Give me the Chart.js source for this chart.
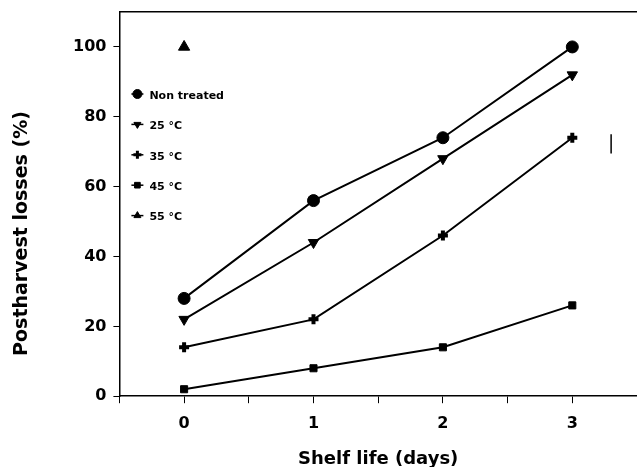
<!DOCTYPE html>
<html>
<head>
<meta charset="utf-8">
<script src="https://cdn.jsdelivr.net/npm/chart.js@4/dist/chart.umd.min.js"></script>
<style>
  html, body { margin: 0; padding: 0; background: #fff; overflow: hidden; }
  #wrap { position: absolute; left: 0; top: 0; width: 637px; height: 467px; }
</style>
</head>
<body>
<div id="wrap"><canvas id="lossChart"></canvas></div>
<script>
// Shelf life days and postharvest losses (%) per treatment
const days = [0, 1, 2, 3];
const nonTreated = [28, 56, 74, 100];
const temp25 = [22, 44, 68, 92];
const temp35 = [14, 22, 46, 74];
const temp45 = [2, 8, 14, 26];
const temp55 = [100];          // only day 0 plotted
const seriesNames = ['Non treated', '25 °C', '35 °C', '45 °C', '55 °C'];
const yTicks = [0, 20, 40, 60, 80, 100];
// LSD bar on the right
const lsdDay = 3.3;
const lsdRange = [69.5, 75];

const pts = vals => vals.map((v, i) => ({ x: days[i], y: v }));

const FONT = "'DejaVu Sans', sans-serif";

function series(label, vals, style, radius, extra) {
  return Object.assign({
    label: label,
    data: pts(vals),
    showLine: true,
    borderColor: '#000',
    backgroundColor: '#000',
    borderWidth: 2,
    pointStyle: style,
    pointRadius: radius,
    pointHoverRadius: radius,
    pointBorderWidth: 1,
    pointBorderColor: '#000',
    pointBackgroundColor: '#000'
  }, extra || {});
}

const datasets = [
  series(seriesNames[0], nonTreated, 'circle', 6),
  series(seriesNames[1], temp25, 'triangle', 6, { pointRotation: 180 }),
  series(seriesNames[2], temp35, 'cross', 5, { pointBorderWidth: 4 }),
  series(seriesNames[3], temp45, 'rect', 5),
  series(seriesNames[4], temp55, 'triangle', 6.5),
  {
    label: 'LSD',
    data: lsdRange.map(v => ({ x: lsdDay, y: v })),
    showLine: true,
    borderColor: '#000',
    borderWidth: 1.5,
    pointRadius: 0
  }
];

// legend drawn inside the plot, top-left
const innerLegend = {
  id: 'innerLegend',
  afterDatasetsDraw(chart) {
    const ctx = chart.ctx;
    const area = chart.chartArea;
    ctx.save();
    ctx.font = 'bold 11px ' + FONT;
    ctx.textBaseline = 'middle';
    ctx.fillStyle = '#000';
    ctx.strokeStyle = '#000';
    for (let i = 0; i < 5; i++) {
      const ds = chart.data.datasets[i];
      const x = area.left + 18;
      const y = area.top + 82 + i * 30.4;
      ctx.lineWidth = 1.5;
      ctx.beginPath();
      ctx.moveTo(x - 6, y);
      ctx.lineTo(x + 6, y);
      ctx.stroke();
      ctx.lineWidth = ds.pointStyle === 'cross' ? 3 : 1;
      if (Chart.helpers && Chart.helpers.drawPoint) {
        Chart.helpers.drawPoint(ctx, {
          pointStyle: ds.pointStyle,
          rotation: ds.pointRotation || 0,
          radius: ds.pointStyle === 'circle' ? 4.5 : 4,
          borderWidth: ds.pointStyle === 'cross' ? 3 : 1
        }, x, y);
      }
      ctx.fillText(ds.label, x + 12, y + 2);
    }
    ctx.restore();
  }
};

// y title centred on the page height, as in the original figure
const yTitle = {
  id: 'yTitle',
  afterDraw(chart) {
    const ctx = chart.ctx;
    ctx.save();
    ctx.translate(22, chart.height / 2);
    ctx.rotate(-Math.PI / 2);
    ctx.font = 'bold 19px ' + FONT;
    ctx.fillStyle = '#000';
    ctx.textAlign = 'center';
    ctx.textBaseline = 'middle';
    ctx.fillText('Postharvest losses (%)', 0, 0);
    ctx.restore();
  }
};

// drop the extra space Chart.js keeps for edge labels
const noEdgePadding = scale => {
  scale.paddingLeft = 0;
  scale.paddingRight = 0;
  scale.paddingTop = 0;
  scale.paddingBottom = 0;
};

new Chart(document.getElementById('lossChart'), {
  type: 'scatter',
  data: { datasets: datasets },
  plugins: [innerLegend, yTitle],
  options: {
    responsive: true,
    maintainAspectRatio: false,
    animation: false,
    layout: { autoPadding: false, padding: { left: 66, top: 12, right: 0, bottom: -3 } },
    plugins: {
      legend: { display: false },
      tooltip: { enabled: false }
    },
    scales: {
      x: {
        type: 'linear',
        min: -0.5,
        max: 3.5,
        afterFit: noEdgePadding,
        border: { display: true, color: '#000', width: 1.5 },
        grid: { drawOnChartArea: false, drawTicks: true, tickLength: 7, color: '#000', lineWidth: 1 },
        ticks: {
          stepSize: 0.5,
          padding: 11,
          color: '#000',
          font: { family: FONT, size: 16, weight: 'bold' },
          callback: v => Number.isInteger(v) ? String(v) : ''
        },
        title: {
          display: true,
          text: 'Shelf life (days)',
          color: '#000',
          font: { family: FONT, size: 18, weight: 'bold' },
          padding: { top: 4, bottom: 0 }
        }
      },
      xTop: {
        type: 'linear',
        position: 'top',
        min: -0.5,
        max: 3.5,
        afterFit: noEdgePadding,
        border: { display: true, color: '#000', width: 1.5 },
        grid: { display: false, drawTicks: false },
        ticks: { display: false }
      },
      y: {
        min: 0,
        max: 110,
        afterFit: noEdgePadding,
        afterBuildTicks: scale => { scale.ticks = yTicks.map(v => ({ value: v })); },
        border: { display: true, color: '#000', width: 1.5 },
        grid: { drawOnChartArea: false, drawTicks: true, tickLength: 6, color: '#000', lineWidth: 1 },
        ticks: {
          padding: 7,
          color: '#000',
          font: { family: FONT, size: 16, weight: 'bold' }
        }
      }
    }
  }
});
</script>
</body>
</html>
